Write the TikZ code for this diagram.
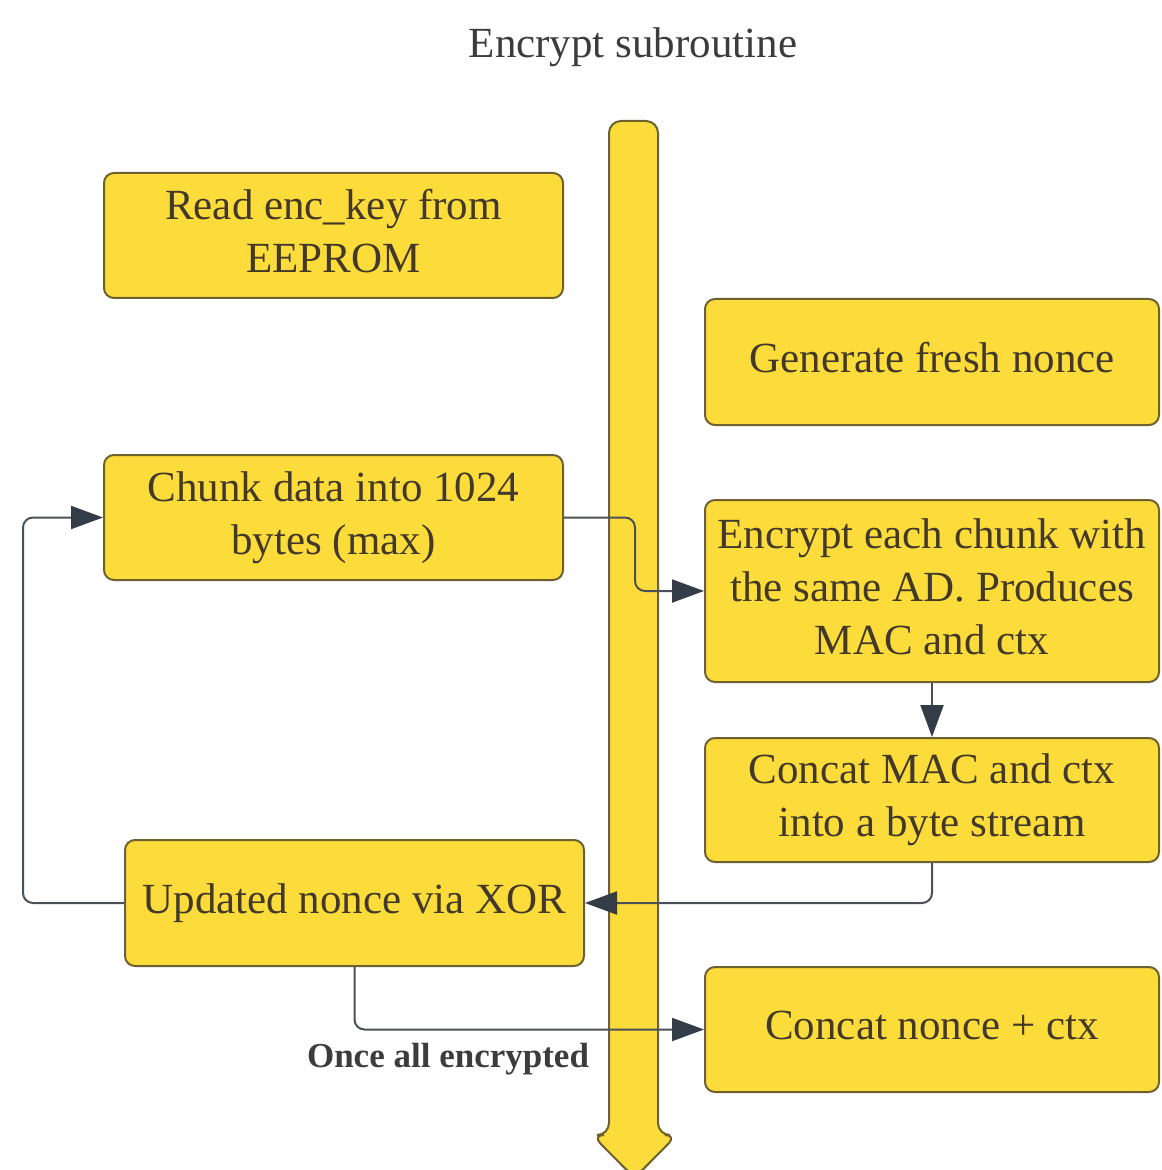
\documentclass[tikz,border=0pt]{standalone}
\usepackage{fontspec}
\setmainfont{Liberation Serif}
\usetikzlibrary{arrows.meta,calc}
\definecolor{boxfill}{HTML}{FCDC3A}
\definecolor{boxline}{HTML}{6E6130}
\definecolor{boxtext}{HTML}{43392A}
\definecolor{connline}{HTML}{4A5058}
\definecolor{tipcol}{HTML}{333C47}
\definecolor{titlecol}{HTML}{3C3C3C}
\newcommand\lowdepth{\rule[-4.7pt]{0pt}{0pt}}
\tikzset{
  stepbox/.style={draw=boxline, fill=boxfill, line width=1pt, rounded corners=5pt,
    text=boxtext, align=center, font=\fontsize{21.5}{26.5}\selectfont, inner sep=0pt,
    minimum width=229.5pt, minimum height=62.5pt, execute at end node=\lowdepth},
  conn/.style={draw=connline, line width=1pt, rounded corners=5pt,
    -{Triangle[length=16pt,width=11.5pt,color=tipcol]}},
}
\begin{document}
\begin{tikzpicture}[x=0.5pt,y=-0.5pt]
\useasboundingbox (0,0) rectangle (1161,1170);
% title
\node[text=titlecol, font=\fontsize{21.5}{26}\selectfont] (title) at (633,47) {Encrypt subroutine};
% big arrow
\draw[draw=boxline, fill=boxfill, line width=1pt, rounded corners=6pt]
  (609,1135) -- (609,121) -- (658,121) -- (658,1135) -- (677,1135) -- (634.5,1178) -- (592,1135) -- cycle;
% boxes
\node[stepbox] (read) at (333.5,235.5) {Read enc\_key from\\EEPROM};
\node[stepbox, minimum width=227pt, minimum height=63pt] (gen) at (932,362) {Generate fresh nonce};
\node[stepbox] (chunk) at (333.5,517.5) {Chunk data into 1024\\bytes (max)};
\node[stepbox, minimum width=227pt, minimum height=91pt] (enc) at (932,591) {Encrypt each chunk with\\the same AD. Produces\\MAC and ctx};
\node[stepbox, minimum width=227pt, minimum height=62pt] (cmac) at (932,800) {Concat MAC and ctx\\into a byte stream};
\node[stepbox, minimum height=63pt] (xor) at (354.5,903) {Updated nonce via XOR};
\node[stepbox, minimum width=227pt] (cnonce) at (932,1029.5) {Concat nonce + ctx};
% connectors
\draw[conn] (chunk.east) -- ++(71,0) |- (enc.west);
\draw[conn] (enc.south) -- (cmac.north);
\draw[conn] (cmac.south) |- (xor.east);
\draw[conn] (xor.west) -- ++(-101,0) |- (chunk.west);
\draw[conn] (xor.south) |- (cnonce.west);
% label
\node[text=titlecol, font=\bfseries\fontsize{17.5}{21}\selectfont] (lbl) at (448,1059) {Once all encrypted};
\end{tikzpicture}
\end{document}
